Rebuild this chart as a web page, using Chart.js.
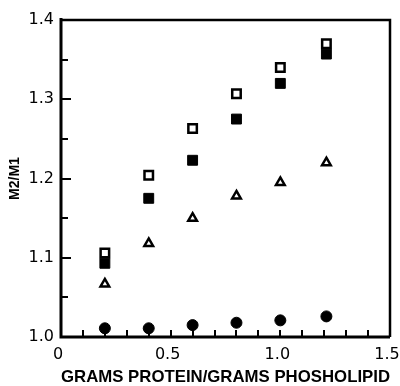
<!DOCTYPE html>
<html>
<head>
<meta charset="utf-8">
<script src="https://cdn.jsdelivr.net/npm/chart.js@4"></script>
<style>
  body { margin: 0; background: #fff; }
  #wrap { width: 400px; height: 386px; }
</style>
</head>
<body>
<div id="wrap"><canvas id="myChart"></canvas></div>
<script>
// protein/phospholipid ratio on x, M2/M1 on y
const protein = [0.2, 0.4, 0.6, 0.8, 1.0, 1.21];
const openSquares = [1.106, 1.204, 1.263, 1.307, 1.34, 1.37];
const filledSquares = [1.093, 1.175, 1.223, 1.275, 1.32, 1.357];
const openTriangles = [1.067, 1.118, 1.15, 1.178, 1.195, 1.22];
const filledCircles = [1.011, 1.011, 1.015, 1.018, 1.021, 1.026];
const xTickLabels = ['0', '0.5', '1.0', '1.5'];
const yTickLabels = ['1.0', '1.1', '1.2', '1.3', '1.4'];

function pts(ys) {
    return protein.map((x, i) => ({ x: x, y: ys[i] }));
}

// frame + inward tick marks (chart.js only draws outward ones)
const frameTicks = {
    id: 'frameTicks',
    beforeDatasetsDraw(chart) {
        const ctx = chart.ctx;
        const a = chart.chartArea;
        const x = chart.scales.x, y = chart.scales.y;
        ctx.save();
        ctx.strokeStyle = '#000';
        ctx.lineCap = 'butt';

        ctx.lineWidth = 2;
        for (let i = 1; i < 8; i++) {
            const py = Math.round(y.getPixelForValue(1 + i * 0.05));
            const len = i % 2 == 0 ? 10 : 7;
            ctx.beginPath();
            ctx.moveTo(a.left, py);
            ctx.lineTo(a.left + len, py);
            ctx.stroke();
        }
        for (let i = 1; i < 15; i++) {
            const px = Math.round(x.getPixelForValue(i * 0.1));
            ctx.beginPath();
            ctx.moveTo(px, a.bottom);
            ctx.lineTo(px, a.bottom - 7);
            ctx.stroke();
        }

        ctx.lineWidth = 2.5;
        ctx.beginPath();
        ctx.moveTo(a.left, a.top);
        ctx.lineTo(a.right, a.top);
        ctx.lineTo(a.right, a.bottom);
        ctx.stroke();

        ctx.lineWidth = 3;
        ctx.beginPath();
        ctx.moveTo(a.left, a.top - 2);
        ctx.lineTo(a.left, a.bottom);
        ctx.lineTo(a.right, a.bottom);
        ctx.stroke();
        ctx.restore();
    }
};

const ctx = document.getElementById('myChart');
Chart.defaults.color = '#000';
Chart.defaults.font.family = "'DejaVu Sans', sans-serif";

new Chart(ctx, {
    type: 'scatter',
    data: {
        datasets: [{
            label: 'open squares',
            data: pts(openSquares),
            pointStyle: 'rect',
            radius: 6,
            borderWidth: 2.5,
            borderColor: '#000',
            backgroundColor: '#fff'
        }, {
            label: 'filled squares',
            data: pts(filledSquares),
            pointStyle: 'rect',
            radius: 7,
            borderWidth: 1,
            borderColor: '#000',
            backgroundColor: '#000'
        }, {
            label: 'triangles',
            data: pts(openTriangles),
            pointStyle: 'triangle',
            radius: 5,
            borderWidth: 2.5,
            borderColor: '#000',
            backgroundColor: '#fff'
        }, {
            label: 'circles',
            data: pts(filledCircles),
            pointStyle: 'circle',
            radius: 5.5,
            borderWidth: 1,
            borderColor: '#000',
            backgroundColor: '#000'
        }]
    },
    options: {
        responsive: true,
        maintainAspectRatio: false,
        animation: false,
        layout: {
            padding: { top: 20, right: 0, left: 0, bottom: 0 }
        },
        plugins: {
            legend: { display: false },
            tooltip: { enabled: false }
        },
        scales: {
            x: {
                type: 'linear',
                min: 0,
                max: 1.5,
                afterFit: (s) => { s.height = 49; s.paddingRight = 10; },
                grid: { display: false, drawTicks: false },
                border: { display: false },
                ticks: {
                    stepSize: 0.5,
                    padding: 8,
                    labelOffset: -3,
                    maxRotation: 0,
                    font: { size: 16 },
                    callback: (v, i) => xTickLabels[i]
                },
                title: {
                    display: true,
                    text: 'GRAMS PROTEIN/GRAMS PHOSHOLIPID',
                    font: { family: "'Liberation Sans', Arial, sans-serif", size: 17, weight: 'bold', lineHeight: 1 },
                    padding: { top: 0, bottom: 0 }
                }
            },
            y: {
                type: 'linear',
                min: 1.0,
                max: 1.4,
                afterFit: (s) => { s.width = 61; },
                grid: { display: false, drawTicks: false },
                border: { display: false },
                ticks: {
                    stepSize: 0.1,
                    padding: 7,
                    font: { size: 16 },
                    callback: (v, i) => yTickLabels[i]
                },
                title: {
                    display: true,
                    text: 'M2/M1',
                    font: { family: "'Liberation Sans', Arial, sans-serif", size: 14, weight: 'bold', lineHeight: 1 },
                    padding: { top: 8, bottom: 0 }
                }
            }
        }
    },
    plugins: [frameTicks]
});
</script>
</body>
</html>
